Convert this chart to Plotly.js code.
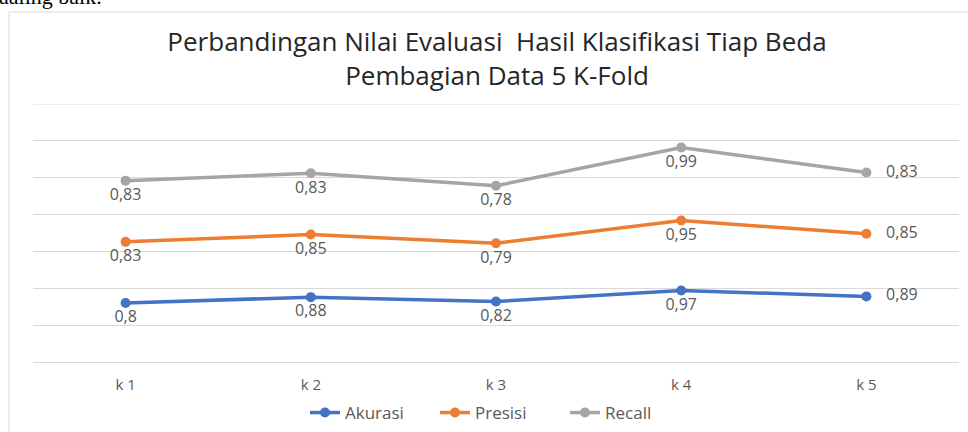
<!DOCTYPE html>
<html>
<head>
<meta charset="utf-8">
<script src="https://cdn.plot.ly/plotly-3.0.1.min.js"></script>
<style>
html,body{margin:0;padding:0;background:#fff;}
#chart{width:968px;height:432px;}
</style>
</head>
<body>
<div id="chart"></div>
<script>
var categories = ["k 1", "k 2", "k 3", "k 4", "k 5"];
var akurasi = [0.80, 0.88, 0.82, 0.97, 0.89];
var presisi = [0.83, 0.85, 0.79, 0.95, 0.85];
var recall  = [0.83, 0.83, 0.78, 0.99, 0.83];
var seriesNames = ["Akurasi", "Presisi", "Recall"];
var seriesColors = ["#4472C4", "#ED7D31", "#A5A5A5"];

function labels(vals) {
  return vals.map(function (v, i) {
    var s = String(v).replace(".", ",");
    return i === vals.length - 1 ? "\u00a0\u00a0\u00a0" + s : s;
  });
}
var positions = ["bottom center", "bottom center", "bottom center", "bottom center", "middle right"];

var allSeries = [akurasi, presisi, recall];
var traces = allSeries.map(function (vals, k) {
  return {
    type: "scatter",
    x: categories,
    y: vals,
    name: seriesNames[k],
    stackgroup: "one",
    fill: "none",
    mode: "lines+markers+text",
    line: {color: seriesColors[k], width: 3.5},
    marker: {color: seriesColors[k], size: 10},
    text: labels(vals),
    textposition: positions,
    textfont: {family: "Open Sans", size: 16, color: "#595959"},
    hoverinfo: "x+text+name",
    cliponaxis: false
  };
});

// plot area: x 33..959, y 104..362
var L = 33, R = 959, T = 104, B = 362;
function px(x) { return (x - L) / (R - L); }
function py(y) { return (B - y) / (B - T); }

var layout = {
  width: 968,
  height: 432,
  margin: {l: L, r: 968 - R, t: T, b: 432 - B, pad: 0, autoexpand: false},
  paper_bgcolor: "#ffffff",
  plot_bgcolor: "#ffffff",
  separators: ",.",
  showlegend: true,
  title: {
    text: "Perbandingan Nilai Evaluasi  Hasil Klasifikasi Tiap Beda<br>Pembagian Data 5 K-Fold",
    font: {family: "Open Sans", size: 26, color: "#262626"},
    x: 497 / 968,
    xref: "container",
    xanchor: "center",
    y: 1 - 51 / 432,
    yref: "container",
    yanchor: "middle"
  },
  xaxis: {
    type: "category",
    range: [-0.5, 4.5],
    autorange: false,
    showgrid: false,
    showline: false,
    zeroline: false,
    ticks: "",
    ticklabelstandoff: 12,
    tickfont: {family: "Open Sans", size: 15, color: "#595959"},
    fixedrange: true
  },
  yaxis: {
    range: [0, 3.5],
    autorange: false,
    dtick: 0.5,
    tick0: 0,
    showgrid: true,
    gridcolor: "#D9D9D9",
    gridwidth: 1,
    zeroline: true,
    zerolinecolor: "#D9D9D9",
    zerolinewidth: 1,
    showticklabels: false,
    showline: false,
    ticks: "",
    fixedrange: true
  },
  legend: {
    orientation: "h",
    x: 500 / 968,
    xref: "container",
    xanchor: "center",
    y: 1 - 413 / 432,
    yref: "container",
    yanchor: "middle",
    font: {family: "Open Sans", size: 17, color: "#595959"},
    itemwidth: 30,
    entrywidth: 85,
    entrywidthmode: "pixels",
    tracegroupgap: 0
  },
  shapes: [
    {type: "line", xref: "paper", yref: "y", x0: 0, x1: 1, y0: 3.5, y1: 3.5,
     line: {color: "#D9D9D9", width: 1}, layer: "below"},
    {type: "line", xref: "paper", yref: "paper", x0: px(9), x1: px(9), y0: py(12), y1: py(440),
     line: {color: "#D9D9D9", width: 1}},
    {type: "line", xref: "paper", yref: "paper", x0: px(9), x1: px(975), y0: py(12), y1: py(12),
     line: {color: "#D9D9D9", width: 1}}
  ],
  annotations: [
    {text: "aaling baik.", xref: "paper", yref: "paper", x: px(-3), y: py(11),
     xanchor: "left", yanchor: "bottom", showarrow: false,
     font: {family: "Liberation Serif", size: 22, color: "#000000"}}
  ]
};

Plotly.newPlot("chart", traces, layout, {displayModeBar: false, staticPlot: true});
</script>
</body>
</html>
